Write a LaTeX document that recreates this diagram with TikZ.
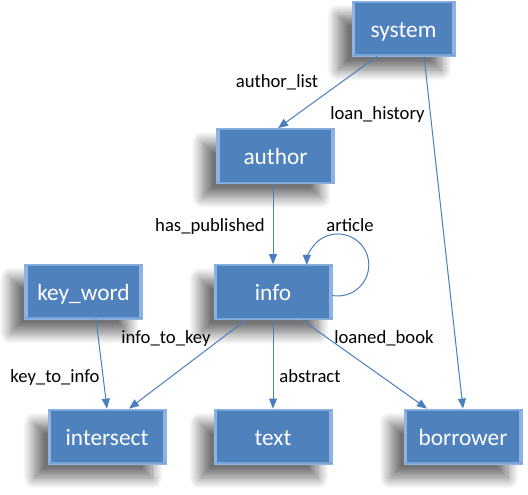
\documentclass[tikz,border=0pt]{standalone}
\usepackage{fontspec}
\setmainfont{Carlito}
\usetikzlibrary{arrows.meta,shadows.blur,calc}
\definecolor{boxblue}{RGB}{79,129,189}
\definecolor{bevel}{RGB}{141,179,226}
\definecolor{lineblue}{RGB}{74,126,193}
\begin{document}
\begin{tikzpicture}[x=0.75pt,y=0.75pt,
  box/.style={rectangle, fill=boxblue, draw=bevel, line width=0.6pt,
    minimum width=88.5pt, minimum height=41.25pt, inner sep=0pt,
    text=white, font=\fontsize{17.5}{20}\selectfont,
    text height=15pt, text depth=2.25pt,
    blur shadow={shadow xshift=-10.5pt, shadow yshift=-10.5pt, shadow blur radius=8pt, shadow blur steps=14, shadow opacity=55},
    path picture={
      \fill[bevel] (path picture bounding box.south west) rectangle ([xshift=2.4pt]path picture bounding box.north west);
      \fill[bevel] ([xshift=-2.4pt]path picture bounding box.south east) rectangle (path picture bounding box.north east);
      \fill[bevel!70!boxblue] ([yshift=-1.2pt]path picture bounding box.north west) rectangle (path picture bounding box.north east);
      \fill[bevel!70!boxblue] (path picture bounding box.south west) rectangle ([yshift=1.2pt]path picture bounding box.south east);
    }},
  conn/.style={draw=lineblue, line width=0.75pt, -{Triangle[length=7.5pt,width=6pt]}},
  lbl/.style={font=\fontsize{14}{16}\selectfont, inner sep=0pt, anchor=base}
]
\useasboundingbox (0,0) rectangle (528,-494);

\node[box, minimum width=77.25pt] (system) at (403.5,-28.5) {system};
\node[box] (author) at (275.5,-156) {author};
\node[box] (info) at (273,-292) {info};
\node[box] (keyword) at (83.5,-291.5) {key\_word};
\node[box] (intersect) at (107,-436.5) {intersect};
\node[box] (text) at (273,-436.5) {text};
\node[box] (borrower) at (463,-436.5) {borrower};

\draw[conn] ([xshift=-19.9pt]system.south) -- ([xshift=1.9pt]author.north);
\draw[conn] ([xshift=15.4pt]system.south) -- (borrower.north);
\draw[conn] (author.south -| info.north) -- (info.north);
\draw[conn] ([yshift=-2.6pt]info.east) arc[start angle=-100,end angle=180,radius=31];
\draw[conn] ([xshift=-20.25pt]info.south) -- ([xshift=16.5pt]intersect.north);
\draw[conn] ([xshift=9.4pt]keyword.south) -- (intersect.north);
\draw[conn] (info.south) -- (text.north);
\draw[conn] ([xshift=21.75pt]info.south) -- ([xshift=-27pt]borrower.north);

\node[lbl] (lauthorlist) at (277,-87) {author\_list};
\node[lbl] (lloan) at (377.5,-119) {loan\_history};
\node[lbl] (lhas) at (210,-231) {has\_published};
\node[lbl] (larticle) at (350,-231) {article};
\node[lbl] (linfokey) at (166,-343) {info\_to\_key};
\node[lbl] (lloaned) at (384,-343) {loaned\_book};
\node[lbl] (lkeyinfo) at (55,-382) {key\_to\_info};
\node[lbl] (labstract) at (310,-382) {abstract};
\end{tikzpicture}
\end{document}
